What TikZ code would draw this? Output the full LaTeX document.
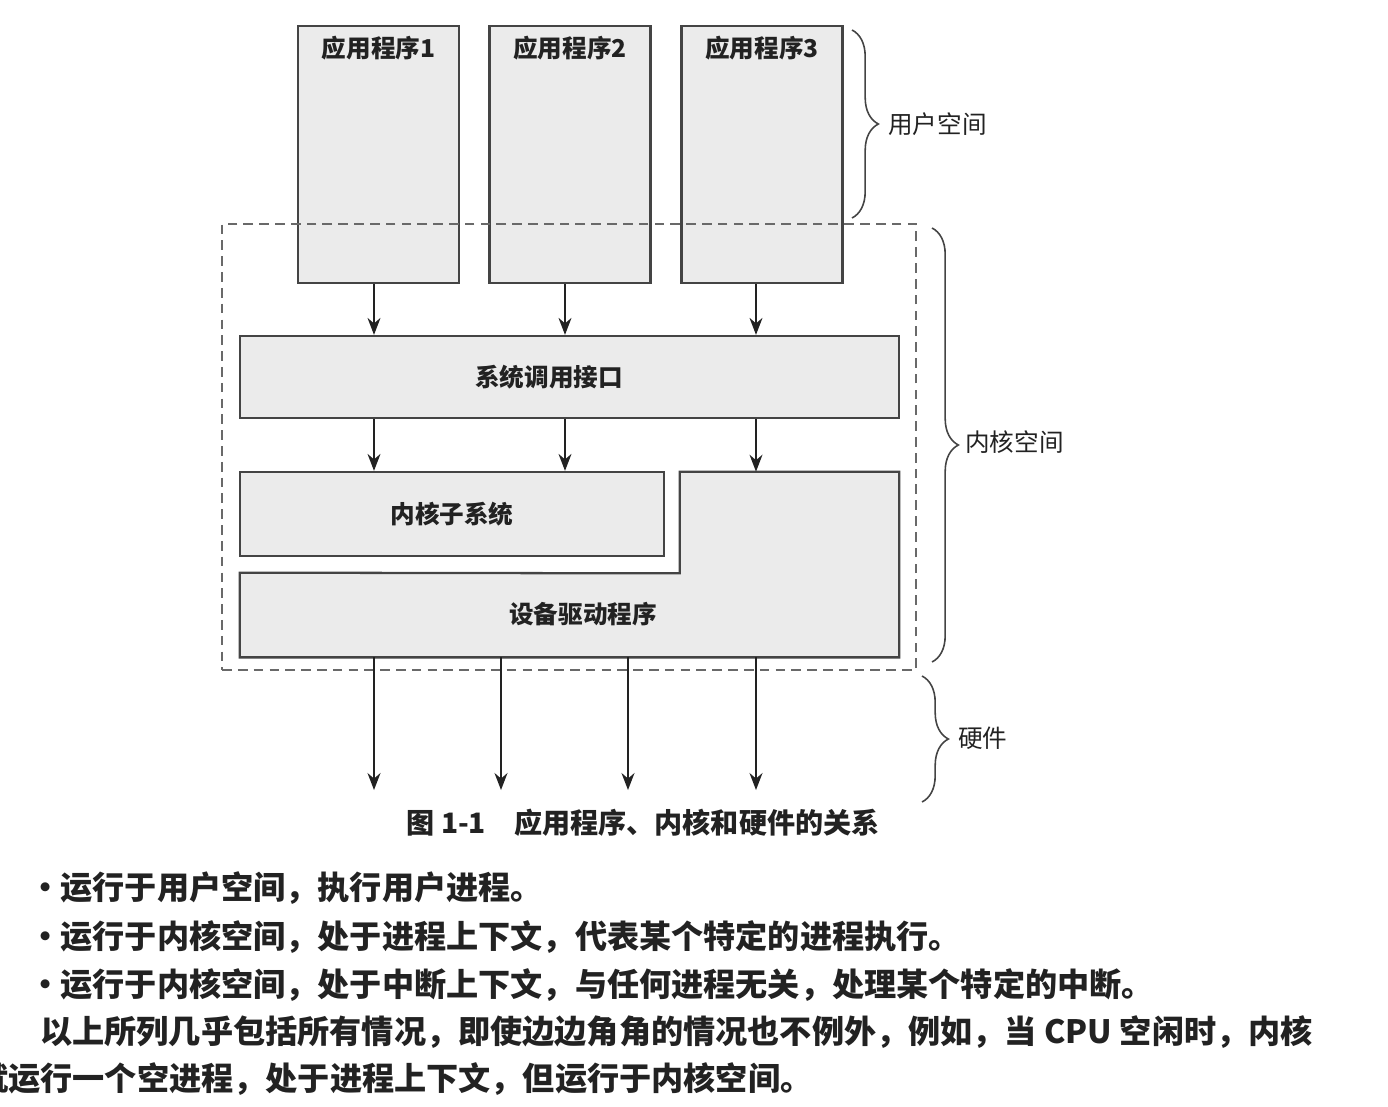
\documentclass[tikz,border=0pt]{standalone}
\usepackage{fontspec}
\setmainfont{Noto Sans CJK SC}
\usepackage{xcolor}
\usetikzlibrary{arrows.meta,decorations.pathreplacing,positioning}
\definecolor{ink}{HTML}{222222}
\definecolor{boxline}{HTML}{444444}
\definecolor{boxfill}{HTML}{EBEBEB}
\newcommand{\bul}{\makebox[0.63em][l]{\hspace{-0.35em}•}}

\begin{document}
\begin{tikzpicture}[x=0.02cm,y=-0.02cm,
  every node/.style={font=\bfseries\fontsize{14}{16}\selectfont,text=ink,inner sep=0pt},
  box/.style={draw=boxline,line width=1.3pt,fill=boxfill},
  kern/.style={draw=boxline!80,line width=1pt,dash pattern=on 5.5pt off 3.5pt},
  a/.style={-{Stealth[length=3.4mm,width=2.6mm]},line width=0.9pt,draw=ink},
  br/.style={decorate,decoration={brace,amplitude=15pt},line width=0.9pt,draw=boxline},
  lab/.style={font=\fontsize{14}{16}\selectfont,anchor=west},
  body/.style={font=\bfseries\fontsize{18.3}{21}\selectfont,anchor=west}]
  \useasboundingbox (0,0) rectangle (1388,1106);
  % arrow columns
  \foreach \i/\x in {1/374,2/565,3/756} \coordinate (u\i) at (\x,0);
  \foreach \i/\x in {1/374,2/501,3/628,4/756} \coordinate (h\i) at (\x,0);
  \coordinate (hw) at (0,790);
  % user space
  \foreach \i/\x in {1/378.5,2/570,3/762} {
    \node[box,minimum width=3.22cm,minimum height=5.14cm] (app\i) at (\x,154.5) {};
    \node (t\i) at (\x,48) {应用程序\i};
  }
  % kernel space
  \node[kern,minimum width=13.88cm,minimum height=8.92cm] (ks) at (569,447) {};
  \node[box,minimum width=13.18cm,minimum height=1.64cm] (sys) at (569.5,377) {};
  \node (syslab) at (549,377) {系统调用接口};
  \node[box,minimum width=8.48cm,minimum height=1.68cm] (sub) at (452,514) {内核子系统};
  \node[minimum width=13.18cm,minimum height=1.68cm] (drv) at (569.5,615) {};
  \node[minimum width=4.38cm,minimum height=2.02cm] (drvtop) at (789.5,522.5) {};
  \draw[box] (drv.north west) -- (drvtop.south west) -- (drvtop.north west)
    -- (drvtop.north east) -- (drv.south east) -- (drv.south west) -- cycle;
  \node (drvlab) at (583,614) {设备驱动程序};
  % calls
  \foreach \i in {1,2,3} \draw[a] (app\i.south -| u\i) -- (sys.north -| u\i);
  \foreach \i in {1,2} \draw[a] (sys.south -| u\i) -- (sub.north -| u\i);
  \draw[a] (sys.south -| u3) -- (drvtop.north -| u3);
  \foreach \i in {1,...,4} \draw[a] (drv.south -| h\i) -- (h\i |- hw);
  % braces
  \draw[br] (852,30) -- (852,218);
  \node[lab] (usrlab) at (888,124) {用户空间};
  \draw[br] (932,228) -- (932,662);
  \node[lab] (krnlab) at (965,442) {内核空间};
  \draw[br] (922,676) -- (922,802);
  \node[lab] (hwlab) at (958,738) {硬件};
  % caption and text
  \node[font=\bfseries\fontsize{16}{18}\selectfont] (cap) at (643,823) {图 1-1\hspace{1em}应用程序、内核和硬件的关系};
  \node[body] (b1) at (40,888) {\bul 运行于用户空间，执行用户进程。};
  \node[body] (b2) at (40,937) {\bul 运行于内核空间，处于进程上下文，代表某个特定的进程执行。};
  \node[body] (b3) at (40,985) {\bul 运行于内核空间，处于中断上下文，与任何进程无关，处理某个特定的中断。};
  \node[body] (p1) at (40,1032) {以上所列几乎包括所有情况，即使边边角角的情况也不例外，例如，当 CPU 空闲时，内核};
  \node[body] (p2) at (-24,1079) {就运行一个空进程，处于进程上下文，但运行于内核空间。};
\end{tikzpicture}
\end{document}
